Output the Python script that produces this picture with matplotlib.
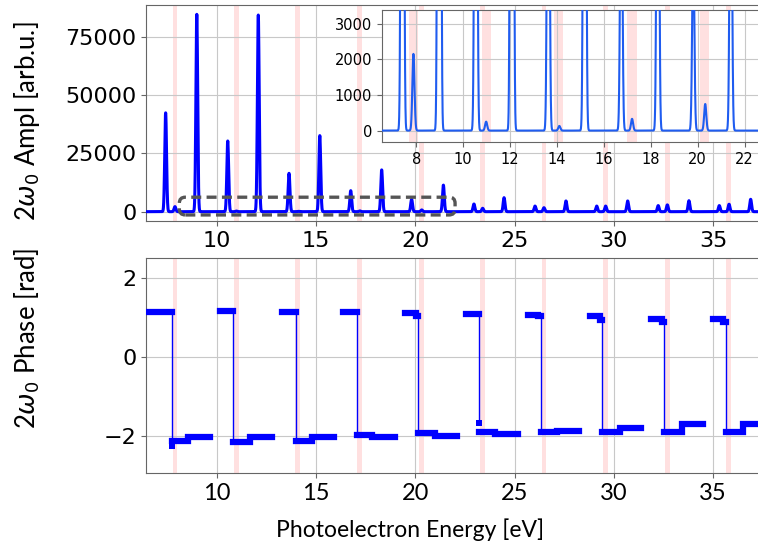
import numpy as np
import matplotlib
matplotlib.use("Agg")
import matplotlib.pyplot as plt
from matplotlib.patches import FancyBboxPatch
from matplotlib.transforms import IdentityTransform

# ---------------- data ----------------
# amplitude spectrum: sideband peak centres [eV] and heights [arb.u.]
peak_E = [7.41, 8.98, 10.54, 12.08, 13.63, 15.18, 16.74, 18.30, 19.81, 21.41,
          22.95, 24.47, 26.03, 27.59, 29.14, 30.70, 32.24, 33.79, 35.32, 36.90]
peak_A = [42400, 84600, 30300, 84300, 16450, 32600, 9000, 17900, 5300, 11400,
          3300, 6000, 2400, 4600, 2400, 4600, 2600, 4700, 2600, 5300]
# weak 2w0 components at the harmonic positions
harm_E = [7.88, 10.98, 14.10, 17.20, 20.32, 23.39, 26.48, 29.59, 32.70, 35.81]
harm_A = [2150, 250, 130, 330, 745, 1450, 1700, 2400, 2900, 3200]

# shaded harmonic positions
band_E = [7.88, 10.99, 14.07, 17.20, 20.30, 23.38, 26.48, 29.59, 32.70, 35.80]

# phase steps for each group
hi_start = [6.30, 10.13, 13.27, 16.35, 19.46, 22.56, 25.67, 28.78, 31.89, 35.00]
drop_x = [7.72, 10.82, 13.97, 17.04, 20.15, 23.22, 26.31, 29.42, 32.55, 35.64]
hi_val = [1.15, 1.17, 1.15, 1.14, 1.12, 1.10, 1.06, 1.03, 0.97, 0.97]
hi_end_val = [1.15, 1.17, 1.15, 1.14, 1.05, 1.10, 1.03, 0.95, 0.90, 0.90]
dip_val = [-2.26, -2.16, -2.14, -1.98, -1.92, -1.67, -1.91, -1.91, -1.91, -1.91]
lo1_val = [-2.14, -2.16, -2.14, -1.98, -1.92, -1.91, -1.91, -1.91, -1.91, -1.91]
step_x = [8.56, 11.66, 14.78, 17.80, 20.99, 24.00, 27.12, 30.32, 33.43, 36.53]
lo2_val = [-2.03, -2.03, -2.03, -2.03, -1.99, -1.95, -1.88, -1.80, -1.71, -1.71]
lo_end = [9.67, 12.77, 15.89, 18.95, 22.10, 25.15, 28.27, 31.38, 34.49, 37.60]

# zoom box (data coords of top panel)
zoom_box = [8.1, -1400, 22.0, 6200]

main_xticks = [10, 15, 20, 25, 30, 35]
amp_yticks = [0, 25000, 50000, 75000]
phase_yticks = [-2, 0, 2]
inset_xticks = [8, 10, 12, 14, 16, 18, 20, 22]
inset_yticks = [0, 1000, 2000, 3000]

# ---------------- figure ----------------
W, H = 758, 547
fig = plt.figure(figsize=(W / 100, H / 100), dpi=100)
LABEL_FONT = ["Lato", "DejaVu Sans"]
BLUE = "#0000ff"
GRID = "#c8c8c8"
SPINE = "#666666"


def px_rect(l, t, r, b):
    return [l / W, 1 - b / H, (r - l) / W, (b - t) / H]


def style(ax):
    ax.grid(True, color=GRID, lw=0.8)
    ax.set_axisbelow(True)
    for s in ax.spines.values():
        s.set_color(SPINE)
    ax.spines["right"].set_visible(False)
    ax.tick_params(colors=SPINE, labelcolor="black")


sigma = 0.045
E = np.arange(6.0, 38.0, 0.004)
amp = np.zeros_like(E)
for c, a in zip(peak_E + harm_E, peak_A + harm_A):
    amp += a * np.exp(-0.5 * ((E - c) / sigma) ** 2)

# top: amplitude
ax1 = fig.add_axes(px_rect(146, 5, 758, 221))
style(ax1)
for c in band_E:
    ax1.axvspan(c - 0.12, c + 0.12, color="red", alpha=0.12, lw=0, zorder=0.5)
ax1.plot(E, amp, color=BLUE, lw=2.2, zorder=3)
ax1.set_xlim(6.42, 37.27)
ax1.set_ylim(-4000, 88600)
ax1.set_xticks(main_xticks)
ax1.set_yticks(amp_yticks)
ax1.tick_params(labelsize=16)

p0 = ax1.transData.transform((zoom_box[0], zoom_box[1]))
p1 = ax1.transData.transform((zoom_box[2], zoom_box[3]))
box = FancyBboxPatch((p0[0], p0[1]), p1[0] - p0[0], p1[1] - p0[1],
                     boxstyle="round,pad=0,rounding_size=6",
                     transform=IdentityTransform(), fill=False, ec="#555555",
                     lw=2.4, ls=(0, (3, 1.6)), zorder=4)
ax1.add_artist(box)

# bottom: phase
ax2 = fig.add_axes(px_rect(146, 258, 758, 473))
style(ax2)
for c in band_E:
    ax2.axvspan(c - 0.12, c + 0.12, color="red", alpha=0.12, lw=0, zorder=0.5)
for i in range(len(drop_x)):
    d = drop_x[i]
    ax2.plot([d, d], [hi_end_val[i], dip_val[i]], color=BLUE, lw=1.0, zorder=2)
    ax2.plot([hi_start[i], d - 0.12, d - 0.12, d],
             [hi_val[i], hi_val[i], hi_end_val[i], hi_end_val[i]],
             color=BLUE, lw=4.5, solid_capstyle="projecting",
             solid_joinstyle="miter", zorder=3)
    ax2.plot([d, step_x[i], step_x[i], lo_end[i]],
             [lo1_val[i], lo1_val[i], lo2_val[i], lo2_val[i]],
             color=BLUE, lw=4.5, solid_capstyle="projecting",
             solid_joinstyle="miter", zorder=3)
    if dip_val[i] != lo1_val[i]:
        ax2.plot([d], [dip_val[i]], "s", color=BLUE, ms=4.5, mew=0, zorder=3)
ax2.set_xlim(6.42, 37.27)
ax2.set_ylim(-2.94, 2.51)
ax2.set_xticks(main_xticks)
ax2.set_yticks(phase_yticks)
ax2.tick_params(axis="y", labelsize=16)
for lab in ax2.get_xticklabels():
    lab.set_family(LABEL_FONT)
    lab.set_fontsize(17)

# inset
ax3 = fig.add_axes(px_rect(382, 10, 758, 142))
ax3.set_facecolor("white")
style(ax3)
for c in band_E:
    ax3.axvspan(c - 0.2, c + 0.2, color="red", alpha=0.12, lw=0, zorder=0.5)
ax3.plot(E, amp, color="#1f5cf0", lw=1.5, zorder=3)
ax3.set_xlim(6.54, 22.57)
ax3.set_ylim(-320, 3380)
ax3.set_xticks(inset_xticks)
ax3.set_yticks(inset_yticks)
ax3.tick_params(labelsize=10.5)

# labels
fig.text(27 / W, 1 - 121 / H, r"2$\omega_0$ Ampl [arb.u.]", rotation=90,
         ha="center", va="center", fontsize=18.5, family=LABEL_FONT)
fig.text(27 / W, 1 - 338 / H, r"2$\omega_0$ Phase [rad]", rotation=90,
         ha="center", va="center", fontsize=18.5, family=LABEL_FONT)
fig.text(410 / W, 1 - 530 / H, "Photoelectron Energy [eV]",
         ha="center", va="center", fontsize=16.5, family=LABEL_FONT)

fig.savefig("out.png", dpi=100)
